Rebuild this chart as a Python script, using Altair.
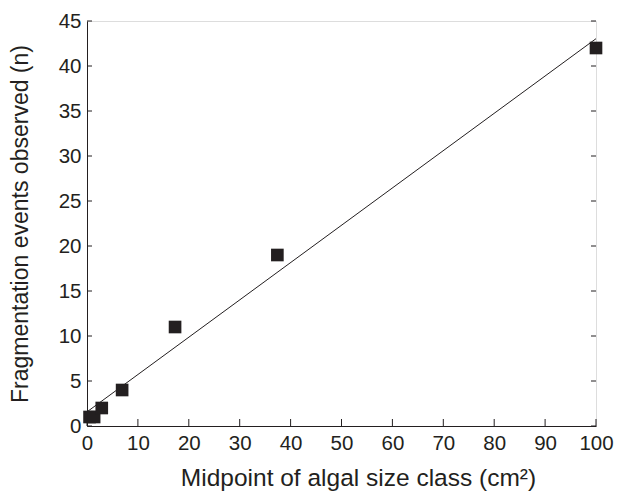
import altair as alt
import pandas as pd

size_mid = [0.5, 1.4, 2.9, 6.9, 17.3, 37.4, 100.0]
events = [1, 1, 2, 4, 11, 19, 42]
x_ticks = list(range(0, 101, 10))
y_ticks = list(range(0, 46, 5))

df = pd.DataFrame({"x": size_mid, "y": events})
xt = pd.DataFrame({"t": x_ticks})
yt = pd.DataFrame({"t": y_ticks})

W, H = 509, 405
FONT = "Liberation Sans"
INK = "#231f20"
xscale = alt.Scale(domain=[0, 100], nice=False, zero=False)
yscale = alt.Scale(domain=[0, 45], nice=False, zero=False)

xaxis = alt.Axis(values=x_ticks, ticks=False, labelFontSize=20.5, labelFont=FONT,
                 labelColor=INK, labelPadding=7, labelFlush=False, labelOverlap=False,
                 title="Midpoint of algal size class (cm²)",
                 titleFont=FONT, titleFontSize=24.5, titleFontWeight="normal",
                 titleColor=INK, titlePadding=13, titleX=271, grid=False, domainColor=INK)
yaxis = alt.Axis(values=y_ticks, ticks=False, labelFontSize=20.5, labelFont=FONT,
                 labelColor=INK, labelPadding=6, labelFlush=False, labelOverlap=False,
                 title="Fragmentation events observed (n)",
                 titleFont=FONT, titleFontSize=23, titleFontWeight="normal",
                 titleColor=INK, titlePadding=26, grid=False, domainColor=INK)

base = alt.Chart(df)

points = base.mark_square(size=160, color=INK, opacity=1).encode(
    x=alt.X("x:Q", scale=xscale, axis=xaxis),
    y=alt.Y("y:Q", scale=yscale, axis=yaxis),
)

line = base.transform_regression("x", "y", extent=[0, 100]).mark_line(
    color=INK, strokeWidth=1
).encode(x=alt.X("x:Q", scale=xscale), y=alt.Y("y:Q", scale=yscale))

xt_rules = alt.Chart(xt).mark_rule(color=INK, strokeWidth=1).encode(
    x=alt.X("t:Q", scale=xscale), y=alt.value(H), y2=alt.value(H - 7)
)
yt_rules = alt.Chart(yt).mark_rule(color=INK, strokeWidth=1).encode(
    y=alt.Y("t:Q", scale=yscale), x=alt.value(0), x2=alt.value(5)
)
yt_rules_r = alt.Chart(yt).mark_rule(color=INK, strokeWidth=1).encode(
    y=alt.Y("t:Q", scale=yscale), x=alt.value(W), x2=alt.value(W - 5)
)

chart = alt.layer(line, xt_rules, yt_rules, yt_rules_r, points).properties(
    width=W, height=H,
    autosize=alt.AutoSizeParams(type="none"),
    padding={"left": 79, "top": 13, "right": 20, "bottom": 68},
).configure_view(stroke=INK, strokeWidth=1.3).configure(background="white")

chart.save("out.html", embed_options={"renderer": "svg", "actions": False})
